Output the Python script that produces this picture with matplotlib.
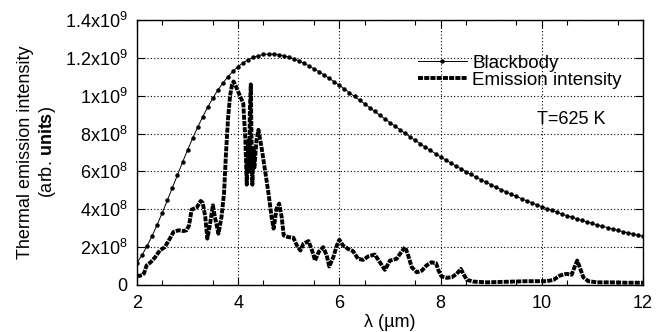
import matplotlib
matplotlib.use('Agg')
import matplotlib.pyplot as plt

# Fonte parecida com Helvetica
plt.rcParams['font.family'] = ['Liberation Sans', 'DejaVu Sans']
plt.rcParams['mathtext.fontset'] = 'custom'
plt.rcParams['mathtext.rm'] = 'Liberation Sans'
plt.rcParams['mathtext.bf'] = 'Liberation Sans:bold'
plt.rcParams['mathtext.default'] = 'regular'

# Dados (intensidade em unidades de 1e8)
bb_wavelength = [2.0, 2.1, 2.2, 2.3, 2.4, 2.5, 2.6, 2.7, 2.8, 2.9,
                 3.0, 3.1, 3.2, 3.3, 3.4, 3.5, 3.6, 3.7, 3.8, 3.9,
                 4.0, 4.1, 4.2, 4.3, 4.4, 4.5, 4.6, 4.7, 4.8, 4.9,
                 5.0, 5.1, 5.2, 5.3, 5.4, 5.5, 5.6, 5.7, 5.8, 5.9,
                 6.0, 6.1, 6.2, 6.3, 6.4, 6.5, 6.6, 6.7, 6.8, 6.9,
                 7.0, 7.1, 7.2, 7.3, 7.4, 7.5, 7.6, 7.7, 7.8, 7.9,
                 8.0, 8.1, 8.2, 8.3, 8.4, 8.5, 8.6, 8.7, 8.8, 8.9,
                 9.0, 9.1, 9.2, 9.3, 9.4, 9.5, 9.6, 9.7, 9.8, 9.9,
                 10.0, 10.1, 10.2, 10.3, 10.4, 10.5, 10.6, 10.7, 10.8, 10.9,
                 11.0, 11.1, 11.2, 11.3, 11.4, 11.5, 11.6, 11.7, 11.8, 11.9, 12.0]
bb_intensity = [1.17, 1.58, 2.06, 2.60, 3.19, 3.82, 4.47, 5.14, 5.81, 6.48,
                7.13, 7.75, 8.34, 8.89, 9.40, 9.88, 10.30, 10.68, 11.01, 11.30,
                11.54, 11.75, 11.91, 12.03, 12.12, 12.18, 12.20, 12.20, 12.17, 12.11,
                12.04, 11.95, 11.84, 11.71, 11.57, 11.42, 11.26, 11.09, 10.92, 10.73,
                10.55, 10.35, 10.16, 9.96, 9.76, 9.57, 9.37, 9.17, 8.97, 8.78,
                8.58, 8.39, 8.20, 8.01, 7.82, 7.64, 7.46, 7.28, 7.11, 6.94,
                6.77, 6.61, 6.45, 6.29, 6.14, 5.99, 5.84, 5.70, 5.56, 5.43,
                5.29, 5.16, 5.04, 4.91, 4.79, 4.68, 4.56, 4.45, 4.35, 4.24,
                4.14, 4.04, 3.94, 3.85, 3.75, 3.66, 3.58, 3.49, 3.41, 3.33,
                3.25, 3.17, 3.10, 3.03, 2.96, 2.89, 2.82, 2.76, 2.70, 2.63, 2.57]

em_wavelength = [2.00, 2.05, 2.10, 2.14, 2.19, 2.27, 2.36, 2.45, 2.55, 2.65,
                 2.72, 2.82, 2.92, 2.98, 3.03, 3.08, 3.18, 3.26, 3.30, 3.35,
                 3.39, 3.44, 3.50, 3.54, 3.61, 3.67, 3.72, 3.76, 3.80, 3.84,
                 3.88, 3.91, 3.97, 4.04, 4.10, 4.14, 4.17, 4.20, 4.22, 4.23,
                 4.25, 4.26, 4.28, 4.30, 4.32, 4.36, 4.40, 4.46, 4.53, 4.60,
                 4.66, 4.70, 4.76, 4.81, 4.86, 4.90, 4.99, 5.09, 5.16, 5.23,
                 5.29, 5.39, 5.46, 5.52, 5.59, 5.68, 5.75, 5.80, 5.88, 5.95,
                 6.00, 6.07, 6.17, 6.27, 6.37, 6.47, 6.57, 6.70, 6.80, 6.90,
                 7.00, 7.13, 7.20, 7.30, 7.36, 7.43, 7.53, 7.63, 7.72, 7.82,
                 7.91, 7.96, 8.02, 8.12, 8.22, 8.32, 8.40, 8.45, 8.52, 8.65,
                 8.91, 9.17, 9.44, 9.70, 9.90, 10.10, 10.23, 10.36, 10.49, 10.59,
                 10.66, 10.70, 10.75, 10.82, 10.92, 11.09, 11.35, 11.68, 12.00]
em_intensity = [0.50, 0.48, 0.52, 0.62, 1.03, 1.20, 1.47, 1.82, 2.00, 2.45,
                2.80, 2.89, 2.85, 2.89, 3.15, 3.98, 4.09, 4.44, 4.34, 3.59,
                2.45, 3.15, 4.21, 3.59, 2.71, 3.59, 4.83, 7.00, 8.80, 10.00,
                10.60, 10.75, 10.40, 9.96, 9.60, 7.80, 5.30, 7.60, 6.00, 9.20,
                10.60, 8.40, 5.30, 7.20, 6.20, 7.60, 8.20, 7.30, 6.07, 4.83,
                3.60, 2.98, 4.04, 4.30, 3.59, 2.62, 2.53, 2.50, 2.09, 1.82,
                2.18, 2.32, 1.82, 1.29, 1.74, 2.00, 1.56, 0.98, 1.47, 2.09,
                2.39, 2.09, 1.91, 1.79, 1.38, 1.33, 1.51, 1.61, 1.20, 0.80,
                1.29, 1.38, 1.65, 2.00, 1.56, 0.94, 0.67, 0.76, 1.03, 1.20,
                1.15, 0.76, 0.45, 0.38, 0.41, 0.59, 0.85, 0.59, 0.27, 0.18,
                0.14, 0.16, 0.18, 0.20, 0.20, 0.20, 0.27, 0.50, 0.59, 0.54,
                1.03, 1.29, 0.94, 0.41, 0.20, 0.14, 0.14, 0.12, 0.12]

x_ticks = [2, 4, 6, 8, 10, 12]
y_ticks = [0, 2, 4, 6, 8, 10, 12, 14]
y_labels = ['0', '2x10$^8$', '4x10$^8$', '6x10$^8$', '8x10$^8$',
            '1x10$^9$', '1.2x10$^9$', '1.4x10$^9$']

# Figura
fig = plt.figure(figsize=(6.63, 3.32), dpi=100)
ax = fig.add_axes([0.2066, 0.1416, 0.7632, 0.7982])

ax.plot(bb_wavelength, bb_intensity, color='black', linewidth=0.7,
        marker='o', markersize=2.2, label='Blackbody')
ax.plot(em_wavelength, em_intensity, color='black', linewidth=2.8,
        linestyle=(0, (1.3, 0.3)), label='Emission intensity')

ax.set_xlim(2, 12)
ax.set_ylim(0, 14)
ax.set_xticks(x_ticks)
ax.set_xticks([x + 0.5 for x in range(2, 12)], minor=True)
ax.set_yticks(y_ticks)
ax.set_yticklabels(y_labels)

ax.tick_params(which='both', direction='in', top=True, right=True, labelsize=13)
ax.tick_params(which='major', length=6, width=0.8)
ax.tick_params(which='minor', length=3.5, width=0.8)
ax.tick_params(axis='y', pad=7)
ax.tick_params(axis='x', pad=7)

ax.grid(True, which='major', color='black', linestyle=(0, (1, 2)), linewidth=0.8)

ax.set_xlabel('λ (µm)', fontsize=13, labelpad=2)
ax.set_ylabel('Thermal emission intensity\n(arb. $\\mathbf{units}$)', fontsize=13, labelpad=5)

ax.legend(loc='upper left', bbox_to_anchor=(0.555, 0.87), frameon=False,
          fontsize=13.5, handlelength=2.6, handletextpad=0.3, labelspacing=0.0,
          borderpad=0, borderaxespad=0, numpoints=1)

ax.text(9.9, 8.75, 'T=625 K', fontsize=13, ha='left', va='center')

for s in ax.spines.values():
    s.set_linewidth(1.0)

plt.savefig('out.png', dpi=100)
